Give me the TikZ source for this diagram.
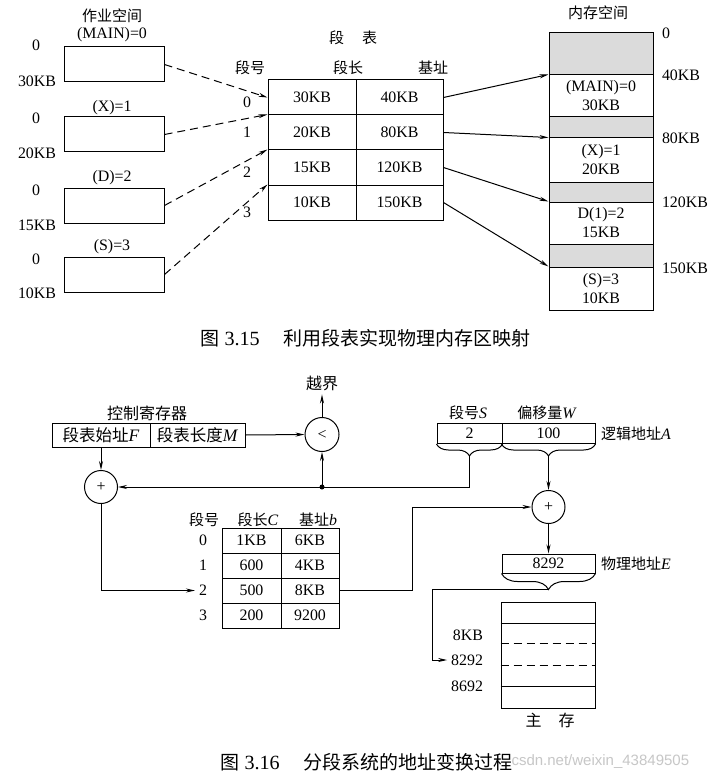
\documentclass[tikz,border=0pt]{standalone}
\usepackage{fontspec}
\setmainfont{Liberation Serif}[Scale=1.06]
\setsansfont{Liberation Sans}
\newfontfamily\cjk{Noto Sans CJK SC}
\newcommand{\zw}[1]{{\cjk #1}}
\usetikzlibrary{positioning,calc,arrows.meta,decorations.pathreplacing}
\tikzset{font=\fontsize{15}{19}\selectfont}
\tikzset{
	jobbox/.style={draw, minimum width=100pt, minimum height=35pt},
	cell/.style={draw, minimum width=88pt, minimum height=35pt, inner sep=0pt},
	memcell/.style={draw, minimum width=104pt, inner sep=0pt, align=center},
	freeblock/.style={memcell, fill=black!14},
	opnode/.style={draw, circle, minimum size=34pt, inner sep=0pt},
	regcell/.style={draw, minimum height=24pt, inner sep=0pt, font=\fontsize{16.5}{19}\selectfont},
	addrcell/.style={draw, minimum height=20pt, inner sep=0pt},
	smallcell/.style={draw, minimum width=59pt, minimum height=25pt, inner sep=0pt},
	underbrace/.style={decorate, decoration={brace, mirror, amplitude=#1}},
	underbrace/.default=12pt,
	dashline/.style={dash pattern=on 8pt off 5pt},
	bigtext/.style={font=\fontsize{16}{19}\selectfont},
	caption/.style={anchor=west, inner sep=0pt, font=\fontsize{19}{22}\selectfont},
}

\begin{document}
\begin{tikzpicture}[x=1pt, y=-1pt, line width=1pt, >={Stealth[length=9pt, width=4pt]}]
	\useasboundingbox[fill=white] (0,0) rectangle (708,778);

	% job space
	\node (jobtitle) at (112,16) {\zw{作业空间}};
	\node (jname0) at (112,35) {(MAIN)=0};
	\node (jname1) at (112,108) {(X)=1};
	\node (jname2) at (112,178) {(D)=2};
	\node (jname3) at (112,247) {(S)=3};
	\node[jobbox] (job0) at (114,64.5) {};
	\node[jobbox] (job1) at (114,134.5) {};
	\node[jobbox] (job2) at (114,205.5) {};
	\node[jobbox] (job3) at (114,274.5) {};
	\node (jlo0) at (36,45) {0};
	\node (jhi0) at (37,81) {30KB};
	\node (jlo1) at (36,118) {0};
	\node (jhi1) at (37,153) {20KB};
	\node (jlo2) at (36,190) {0};
	\node (jhi2) at (37,225) {15KB};
	\node (jlo3) at (36,259) {0};
	\node (jhi3) at (37,293) {10KB};

	% segment table
	\node (stitle) at (353,38) {\zw{段}\hspace{18pt}\zw{表}};
	\node (shnum) at (250,68) {\zw{段号}};
	\node (shlen) at (348,68) {\zw{段长}};
	\node (shbase) at (433,68) {\zw{基址}};
	\node[cell] (s00) at (312,97.5) {30KB};
	\node[cell, minimum width=87pt] (s01) at (399.5,97.5) {40KB};
	\node[cell] (s10) at (312,132.5) {20KB};
	\node[cell, minimum width=87pt] (s11) at (399.5,132.5) {80KB};
	\node[cell] (s20) at (312,167.5) {15KB};
	\node[cell, minimum width=87pt] (s21) at (399.5,167.5) {120KB};
	\node[cell] (s30) at (312,202.5) {10KB};
	\node[cell, minimum width=87pt] (s31) at (399.5,202.5) {150KB};
	\node (snum0) at (247,102) {0};
	\node (snum1) at (247,132) {1};
	\node (snum2) at (247,172) {2};
	\node (snum3) at (247,212) {3};

	% memory space
	\node (memtitle) at (598,13) {\zw{内存空间}};
	\node[freeblock, minimum height=42pt] (m0) at (601,54) {};
	\node[memcell, minimum height=42pt] (m1) at (601,96) {(MAIN)=0\\30KB};
	\node[freeblock, minimum height=21pt] (m2) at (601,127.5) {};
	\node[memcell, minimum height=44pt] (m3) at (601,160) {(X)=1\\20KB};
	\node[freeblock, minimum height=20pt] (m4) at (601,192) {};
	\node[memcell, minimum height=42pt] (m5) at (601,223) {D(1)=2\\15KB};
	\node[freeblock, minimum height=23pt] (m6) at (601,255.5) {};
	\node[memcell, minimum height=43pt] (m7) at (601,288.5) {(S)=3\\10KB};
	\node[anchor=west] (maddr0) at (658,33) {0};
	\node[anchor=west] (maddr1) at (658,75) {40KB};
	\node[anchor=west] (maddr2) at (658,138) {80KB};
	\node[anchor=west] (maddr3) at (658,202) {120KB};
	\node[anchor=west] (maddr4) at (658,268) {150KB};

	\draw[->, dashline] (job0.east) -- (s00.west);
	\draw[->, dashline] (job1.east) -- (s10.north west);
	\draw[->, dashline] (job2.east) -- (s20.north west);
	\draw[->, dashline] (job3.east) -- (s30.north west);
	\draw[->] (s01.east) -- (m1.north west);
	\draw[->] (s11.east) -- (m3.north west);
	\draw[->] (s21.east) -- (m5.north west);
	\draw[->] (s31.east) -- (m7.north west);

	\node[caption] (cap1) at (200,338) {\zw{图} 3.15\hspace{24pt}\zw{利用段表实现物理内存区映射}};

	% address translation
	\node[bigtext] (regtitle) at (147,413) {\zw{控制寄存器}};
	\node[regcell, minimum width=98pt] (regF) at (101,435) {\zw{段表始址}\textit{F}};
	\node[regcell, minimum width=95pt] (regM) at (197.5,435) {\zw{段表长度}\textit{M}};
	\node[opnode] (cmp) at (322,434.5) {\textless};
	\node[bigtext] (over) at (322,383) {\zw{越界}};
	\node[opnode, minimum size=33pt] (add1) at (101,487) {+};

	\node (segS) at (468,413) {\zw{段号}\textit{S}};
	\node (offW) at (547,413) {\zw{偏移量}\textit{W}};
	\node[addrcell, minimum width=65pt] (la0) at (469.5,433.5) {2};
	\node[addrcell, minimum width=93pt] (la1) at (548.5,433.5) {100};
	\node[anchor=west] (laname) at (597,434) {\zw{逻辑地址}\textit{A}};
	\draw[underbrace] (la0.south west) -- (la0.south east);
	\draw[underbrace] (la1.south west) -- (la1.south east);
	\coordinate (stip) at ($(la0.south)+(0,12)$);
	\coordinate (wtip) at ($(la1.south)+(0,12)$);
	\coordinate (sturn) at (stip |- add1);
	\coordinate (dot) at (cmp |- add1);

	\draw[->] (regM.east) -- (cmp.west);
	\draw[->] (cmp.north) -- (over.south);
	\draw[->] (regF.south) -- (add1.north);
	\draw[->] (stip) -- (sturn) -- (add1.east);
	\draw[->] (dot) -- (cmp.south);
	\fill (dot) circle (2.5pt);

	\node[opnode, minimum size=33pt] (add2) at (548.5,507) {+};
	\draw[->] (wtip) -- (add2.north);

	% segment table
	\node (thnum) at (204,520) {\zw{段号}};
	\node (thlen) at (258,520) {\zw{段长}\textit{C}};
	\node (thbase) at (318,520) {\zw{基址}\textit{b}};
	\node[smallcell] (t00) at (251.5,540.5) {1KB};
	\node[smallcell, minimum width=58pt] (t01) at (310,540.5) {6KB};
	\node[smallcell] (t10) at (251.5,565.5) {600};
	\node[smallcell, minimum width=58pt] (t11) at (310,565.5) {4KB};
	\node[smallcell] (t20) at (251.5,590.5) {500};
	\node[smallcell, minimum width=58pt] (t21) at (310,590.5) {8KB};
	\node[smallcell] (t30) at (251.5,615.5) {200};
	\node[smallcell, minimum width=58pt] (t31) at (310,615.5) {9200};
	\node (r0) at (203,540.5) {0};
	\node (r1) at (203,565.5) {1};
	\node (r2) at (203,590.5) {2};
	\node (r3) at (203,615.5) {3};

	\draw[->] (add1.south) |- (r2.west);
	\coordinate (bturn) at (412,590.5);
	\draw[->] (t21.east) -- (bturn) |- (add2.west);

	% physical address
	\node[addrcell, minimum width=93pt, minimum height=19pt] (pa) at (548.5,563.5) {8292};
	\node[anchor=west] (paname) at (597,563.5) {\zw{物理地址}\textit{E}};
	\draw[->] (add2.south) -- (pa.north);
	\draw[underbrace=16pt] (pa.south west) -- (pa.south east);
	\coordinate (ptip) at ($(pa.south)+(0,16)$);
	\coordinate (pturn) at (432,589.5);

	% main memory
	\node[draw, minimum width=94pt, minimum height=106pt] (mem) at (548,655) {};
	\draw (mem.west |- 0,623) -- (mem.east |- 0,623);
	\draw[dashline] (mem.west |- 0,643) -- (mem.east |- 0,643);
	\draw[dashline] (mem.west |- 0,665) -- (mem.east |- 0,665);
	\draw (mem.west |- 0,686) -- (mem.east |- 0,686);
	\node[anchor=east] (a8k) at (487,635) {8KB};
	\node[anchor=east] (a8292) at (487,660) {8292};
	\node[anchor=east] (a8692) at (487,686) {8692};
	\node[bigtext] (memname) at (550,720) {\zw{主}\hspace{17pt}\zw{存}};
	\draw[->] (ptip) -- (pturn) |- (a8292.west);

	\node[caption] (cap2) at (220,762) {\zw{图} 3.16\hspace{24pt}\zw{分段系统的地址变换过程}};
	\node[anchor=west, inner sep=0pt, text=black!22, font=\sffamily\fontsize{15}{17}\selectfont] (mark) at (511,762) {csdn.net/weixin\_43849505};
\end{tikzpicture}
\end{document}
